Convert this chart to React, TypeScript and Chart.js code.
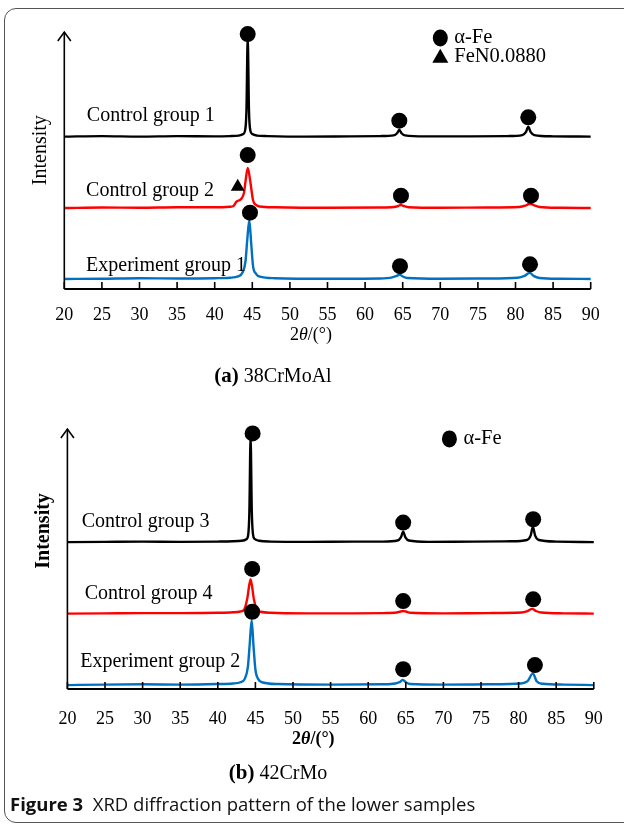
import React, { useEffect, useRef } from "react";
import { Chart, registerables } from "chart.js";

Chart.register(...registerables);

// ---------- shared axis ----------
const xTickValues = [20, 25, 30, 35, 40, 45, 50, 55, 60, 65, 70, 75, 80, 85, 90];

// ---------- panel (a) 38CrMoAl ----------
const cg1Theta = [20, 25, 30, 35, 40, 42, 43.2, 43.8, 44.05, 44.22, 44.39, 44.56, 44.73, 45.0, 45.6, 47, 52, 58, 62, 63.8, 64.25, 64.55, 64.85, 65.3, 68, 74, 79, 80.9, 81.4, 81.7, 82.0, 82.5, 85, 90];
const cg1Int = [0, 0.2, 0, 0.2, 0.1, 0.2, 0.4, 1.0, 2.5, 10, 38.2, 10, 2.5, 1.0, 0.4, 0.2, 0, 0.1, 0.2, 0.5, 1.3, 2.6, 1.3, 0.5, 0.1, 0.1, 0.2, 0.6, 1.8, 3.9, 1.8, 0.6, 0.1, 0];
const cg2Theta = [20, 25, 30, 35, 40, 42, 42.5, 42.9, 43.5, 43.9, 44.1, 44.4, 44.75, 45.1, 45.5, 46, 48, 55, 62, 63.8, 64.4, 64.75, 65.1, 65.8, 70, 76, 80.5, 81.3, 81.8, 82.1, 82.5, 83.2, 86, 90];
const cg2Int = [0, 0.2, 0.1, 0.3, 0.3, 0.5, 0.8, 2.5, 3.5, 6, 10.5, 15.6, 10, 3, 1.2, 0.6, 0.3, 0.1, 0.2, 0.4, 0.8, 1.2, 0.8, 0.3, 0.1, 0.2, 0.4, 0.9, 1.6, 1.6, 1.0, 0.4, 0.1, 0];
const eg1Theta = [20, 25, 30, 35, 40, 42, 43.1, 43.7, 44.1, 44.35, 44.6, 44.85, 45.1, 45.5, 46, 48, 55, 62, 63.6, 64.2, 64.6, 65.0, 65.6, 70, 76, 80.3, 81.2, 81.9, 82.4, 83.2, 86, 90];
const eg1Int = [0, 0.1, 0.3, 0.2, 0.3, 0.5, 1.0, 2.5, 7, 16, 22.9, 14, 5, 2, 0.9, 0.3, 0.1, 0.2, 0.6, 1.2, 1.7, 1.0, 0.4, 0.1, 0.2, 0.5, 1.2, 2.4, 1.2, 0.4, 0.1, 0];
const offsetsA = [59.3, 31.5, 3.9];
const namesA = ["Control group 1", "Control group 2", "Experiment group 1"];
const feThetaA = [44.39, 64.55, 81.7, 44.39, 64.77, 82.06, 44.69, 64.64, 81.93];
const feYA = [99.2, 65.5, 66.8, 52.1, 36.3, 36.3, 29.7, 8.9, 9.6];
const fenThetaA = [43.06];
const fenYA = [39.8];

// ---------- panel (b) 42CrMo ----------
const cg3Theta = [20, 25, 30, 35, 40, 42, 43.2, 43.8, 44.05, 44.2, 44.36, 44.52, 44.68, 44.95, 45.5, 47, 52, 58, 62, 63.9, 64.35, 64.65, 64.95, 65.4, 68, 74, 79, 81.1, 81.6, 81.9, 82.2, 82.7, 85, 90];
const cg3Int = [0, 0.1, 0.2, 0.1, 0.2, 0.3, 0.5, 1.1, 3, 12, 40.4, 12, 3, 1.1, 0.5, 0.2, 0.1, 0.2, 0.2, 0.6, 1.8, 4.0, 1.8, 0.6, 0.1, 0.2, 0.3, 0.8, 2.5, 5.9, 2.5, 0.8, 0.2, 0];
const cg4Theta = [20, 25, 30, 35, 40, 42, 43.0, 43.5, 43.9, 44.36, 44.8, 45.2, 45.7, 47, 52, 58, 62, 63.8, 64.3, 64.65, 65.0, 65.6, 70, 76, 80.4, 81.2, 81.8, 82.3, 83.0, 86, 90];
const cg4Int = [0, 0.1, 0.2, 0.2, 0.3, 0.5, 0.8, 1.5, 5.5, 13.2, 5.5, 1.5, 0.7, 0.3, 0.1, 0.1, 0.2, 0.4, 0.8, 1.0, 0.8, 0.3, 0.1, 0.2, 0.4, 1.0, 1.8, 1.0, 0.4, 0.1, 0];
const eg2Theta = [20, 25, 30, 35, 40, 42, 43.0, 43.6, 44.0, 44.25, 44.5, 44.75, 45.0, 45.4, 46, 48, 55, 62, 63.6, 64.2, 64.6, 65.0, 65.6, 70, 76, 80.3, 81.2, 81.9, 82.4, 83.2, 86, 90];
const eg2Int = [0, 0.2, 0.3, 0.2, 0.4, 0.6, 1.1, 2.5, 7, 16, 25, 15, 6, 2.2, 1.0, 0.4, 0.2, 0.3, 0.6, 1.2, 2.0, 1.1, 0.4, 0.2, 0.3, 0.6, 1.5, 4.5, 1.5, 0.5, 0.2, 0];
const offsetsB = [56.5, 29.0, 1.5];
const namesB = ["Control group 3", "Control group 4", "Experiment group 2"];
const feThetaB = [44.63, 64.65, 81.94, 44.57, 64.65, 81.94, 44.57, 64.65, 82.17];
const feYB = [98.3, 64.0, 65.3, 46.2, 33.8, 34.5, 29.7, 7.6, 9.2];

const COLORS = ["#000000", "#ff0000", "#0070c0"];
const SERIF = "'Liberation Serif', 'Times New Roman', serif";

type Run = { t: string; f: string };

function drawRuns(ctx: CanvasRenderingContext2D, runs: Run[], x: number, y: number, align: "left" | "center") {
  let total = 0;
  runs.forEach((r) => {
    ctx.font = r.f;
    total += ctx.measureText(r.t).width;
  });
  let cx = align === "center" ? x - total / 2 : x;
  ctx.textAlign = "left";
  ctx.textBaseline = "middle";
  runs.forEach((r) => {
    ctx.font = r.f;
    ctx.fillText(r.t, cx, y);
    cx += ctx.measureText(r.t).width;
  });
}

type Panel = {
  id: string;
  top: number;
  height: number;
  areaTop: number;
  areaBottom: number;
  left: number;
  right: number;
  tickPad: number;
  traces: { name: string; theta: number[]; int: number[]; offset: number; color: string; label: [number, number] }[];
  fe: { x: number[]; y: number[] };
  fen?: { x: number[]; y: number[] };
  legend: { x: number; y: number; text: string; kind: "circle" | "triangle" }[];
  intensityY: number;
  intensityBold: boolean;
  titleX: number;
  titleY: number;
  titleBold: boolean;
  caption: { x: number; y: number; bold: string; rest: string };
};

const panelA: Panel = {
  id: "a",
  top: 0,
  height: 400,
  areaTop: 32,
  areaBottom: 289,
  left: 64.3,
  right: 590.7,
  tickPad: 15,
  traces: [
    { name: namesA[0], theta: cg1Theta, int: cg1Int, offset: offsetsA[0], color: COLORS[0], label: [23.0, 67.6] },
    { name: namesA[1], theta: cg2Theta, int: cg2Int, offset: offsetsA[1], color: COLORS[1], label: [22.9, 38.4] },
    { name: namesA[2], theta: eg1Theta, int: eg1Int, offset: offsetsA[2], color: COLORS[2], label: [22.9, 9.2] },
  ],
  fe: { x: feThetaA, y: feYA },
  fen: { x: fenThetaA, y: fenYA },
  legend: [
    { x: 70.0, y: 97.7, text: "α-Fe", kind: "circle" },
    { x: 70.0, y: 90.4, text: "FeN0.0880", kind: "triangle" },
  ],
  intensityY: 54,
  intensityBold: false,
  titleX: 52.8,
  titleY: 335,
  titleBold: false,
  caption: { x: 273, y: 377, bold: "(a)", rest: " 38CrMoAl" },
};

const panelB: Panel = {
  id: "b",
  top: 400,
  height: 431,
  areaTop: 429,
  areaBottom: 689,
  left: 67.4,
  right: 593.8,
  tickPad: 19,
  traces: [
    { name: namesB[0], theta: cg3Theta, int: cg3Int, offset: offsetsB[0], color: COLORS[0], label: [21.9, 64.2] },
    { name: namesB[1], theta: cg4Theta, int: cg4Int, offset: offsetsB[1], color: COLORS[1], label: [22.3, 36.5] },
    { name: namesB[2], theta: eg2Theta, int: eg2Int, offset: offsetsB[2], color: COLORS[2], label: [21.7, 10.4] },
  ],
  fe: { x: feThetaB, y: feYB },
  legend: [{ x: 70.8, y: 96.2, text: "α-Fe", kind: "circle" }],
  intensityY: 60.8,
  intensityBold: true,
  titleX: 52.7,
  titleY: 739,
  titleBold: true,
  caption: { x: 278, y: 774, bold: "(b)", rest: " 42CrMo" },
};

function makeChart(canvas: HTMLCanvasElement, p: Panel) {
  const XH = 40;
  const datasets: any[] = [];
  datasets.push({
    type: "scatter",
    label: "α-Fe",
    data: p.fe.x.map((x, i) => ({ x, y: p.fe.y[i] })),
    pointStyle: "circle",
    pointRadius: 8,
    pointBackgroundColor: "#000",
    pointBorderWidth: 0,
    showLine: false,
    clip: false,
    order: 0,
  });
  if (p.fen) {
    datasets.push({
      type: "scatter",
      label: "FeN0.0880",
      data: p.fen.x.map((x, i) => ({ x, y: p.fen!.y[i] })),
      pointStyle: "triangle",
      pointRadius: 8,
      pointBackgroundColor: "#000",
      pointBorderWidth: 0,
      showLine: false,
      clip: false,
      order: 0,
    });
  }
  p.traces.forEach((t) => {
    datasets.push({
      type: "line",
      label: t.name,
      data: t.theta.map((x, i) => ({ x, y: t.int[i] + t.offset })),
      borderColor: t.color,
      borderWidth: 2.4,
      pointRadius: 0,
      tension: 0.4,
      cubicInterpolationMode: "monotone",
      fill: false,
      clip: false,
      order: 1,
    });
  });

  const decor = {
    id: "decor" + p.id,
    afterDraw(chart: any) {
      const { ctx, chartArea: a } = chart;
      const xs = chart.scales.x;
      const ys = chart.scales.y;
      const T = p.top;
      ctx.save();
      ctx.strokeStyle = "#000";
      ctx.fillStyle = "#000";
      // y axis with arrow
      ctx.lineWidth = 1.6;
      ctx.beginPath();
      ctx.moveTo(a.left, a.bottom);
      ctx.lineTo(a.left, a.top);
      ctx.stroke();
      ctx.beginPath();
      ctx.moveTo(a.left - 6.5, a.top + 9);
      ctx.lineTo(a.left, a.top);
      ctx.lineTo(a.left + 6.5, a.top + 9);
      ctx.stroke();
      // x axis + inward ticks
      ctx.lineWidth = 2;
      ctx.beginPath();
      ctx.moveTo(a.left, a.bottom);
      ctx.lineTo(a.right, a.bottom);
      ctx.stroke();
      ctx.lineWidth = 1.6;
      ctx.beginPath();
      xs.ticks.forEach((t: any) => {
        const px = xs.getPixelForValue(t.value);
        ctx.moveTo(px, a.bottom);
        ctx.lineTo(px, a.bottom - 7);
      });
      ctx.stroke();
      // Intensity
      ctx.save();
      ctx.translate(a.left - 24, ys.getPixelForValue(p.intensityY));
      ctx.rotate(-Math.PI / 2);
      ctx.font = `${p.intensityBold ? "bold " : ""}20px ${SERIF}`;
      ctx.textAlign = "center";
      ctx.textBaseline = "middle";
      ctx.fillText("Intensity", 0, 0);
      ctx.restore();
      // series labels
      p.traces.forEach((t) => {
        drawRuns(ctx, [{ t: t.name, f: `20px ${SERIF}` }], xs.getPixelForValue(t.label[0]), ys.getPixelForValue(t.label[1]), "left");
      });
      // legend
      p.legend.forEach((l) => {
        const cx = xs.getPixelForValue(l.x);
        const cy = ys.getPixelForValue(l.y);
        ctx.beginPath();
        if (l.kind === "circle") {
          ctx.ellipse(cx, cy, 7.5, 8.5, 0, 0, Math.PI * 2);
        } else {
          ctx.moveTo(cx, cy - 8);
          ctx.lineTo(cx + 8, cy + 6);
          ctx.lineTo(cx - 8, cy + 6);
          ctx.closePath();
        }
        ctx.fill();
        drawRuns(ctx, [{ t: l.text, f: `20.5px ${SERIF}` }], cx + 14, cy, "left");
      });
      // axis title
      const w = p.titleBold ? "bold " : "";
      drawRuns(
        ctx,
        [
          { t: "2", f: `${w}18px ${SERIF}` },
          { t: "θ", f: `italic ${w}18px ${SERIF}` },
          { t: "/(°)", f: `${w}18px ${SERIF}` },
        ],
        xs.getPixelForValue(p.titleX),
        p.titleY - T,
        "center"
      );
      // caption
      drawRuns(
        ctx,
        [
          { t: p.caption.bold, f: `bold 21px ${SERIF}` },
          { t: p.caption.rest, f: `20px ${SERIF}` },
        ],
        p.caption.x,
        p.caption.y - T,
        "center"
      );
      ctx.restore();
    },
  };

  return new Chart(canvas, {
    type: "line",
    data: { datasets },
    options: {
      responsive: false,
      animation: false,
      devicePixelRatio: 1,
      events: [],
      layout: {
        padding: {
          left: p.left,
          right: 624 - p.right,
          top: p.areaTop - p.top,
          bottom: p.height - (p.areaBottom - p.top) - XH,
        },
      },
      plugins: { legend: { display: false }, tooltip: { enabled: false } },
      scales: {
        x: {
          type: "linear",
          min: 20,
          max: 90,
          afterFit: (s: any) => {
            s.height = XH;
          },
          afterBuildTicks: (s: any) => {
            s.ticks = xTickValues.map((v) => ({ value: v }));
          },
          grid: { display: false, drawTicks: false },
          border: { display: false },
          ticks: {
            autoSkip: false,
            maxRotation: 0,
            padding: p.tickPad,
            color: "#000",
            font: { family: SERIF, size: 18 },
          },
        },
        y: { display: false, min: 0, max: 100 },
      },
    } as any,
    plugins: [decor],
  });
}

export default function App() {
  const refA = useRef<HTMLCanvasElement>(null);
  const refB = useRef<HTMLCanvasElement>(null);

  useEffect(() => {
    document.body.style.margin = "0";
    document.body.style.overflow = "hidden";
    const ca = makeChart(refA.current!, panelA);
    const cb = makeChart(refB.current!, panelB);
    return () => {
      ca.destroy();
      cb.destroy();
    };
  }, []);

  return (
    <div style={{ position: "relative", width: 624, height: 831, overflow: "hidden", background: "#fff" }}>
      <div
        style={{
          position: "absolute",
          left: 4,
          top: 8,
          width: 700,
          height: 815,
          border: "1px solid #555",
          borderRadius: 12,
          boxSizing: "border-box",
        }}
      />
      <canvas ref={refA} width={624} height={panelA.height} style={{ position: "absolute", left: 0, top: panelA.top, display: "block" }} />
      <canvas ref={refB} width={624} height={panelB.height} style={{ position: "absolute", left: 0, top: panelB.top, display: "block" }} />
      <div
        style={{
          position: "absolute",
          left: 10,
          top: 792,
          fontFamily: "'Open Sans', sans-serif",
          fontSize: 18.5,
          lineHeight: "24px",
          color: "#111",
          whiteSpace: "pre",
        }}
      >
        <b>Figure 3</b>
        {"  XRD diffraction pattern of the lower samples"}
      </div>
    </div>
  );
}
